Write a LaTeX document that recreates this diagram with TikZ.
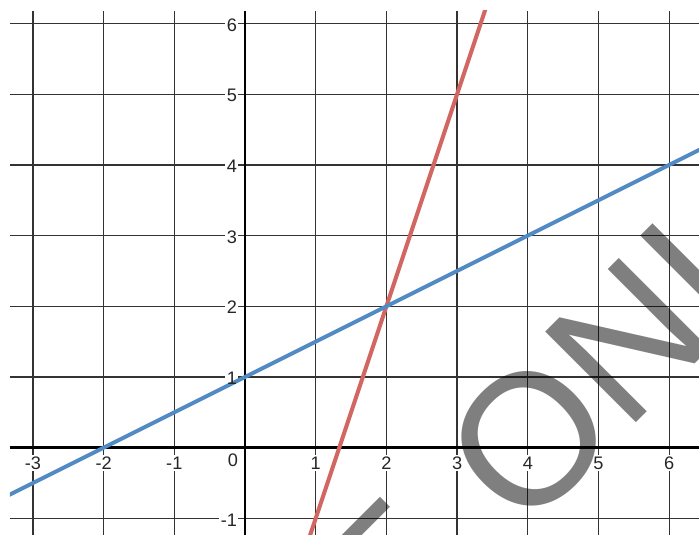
\documentclass[tikz,border=0pt]{standalone}
\usepackage{fontspec}
\setmainfont{Liberation Sans}
\definecolor{redl}{RGB}{210,102,99}
\definecolor{bluel}{RGB}{82,138,196}
\begin{document}
\begin{tikzpicture}[
  gridln/.style={draw=black!80, line width=0.5pt},
  axisln/.style={draw=black, line width=1pt},
  lbl/.style={font=\fontsize{7.3}{8}\selectfont, inner sep=0.6pt, text=black!85},
  lblbg/.style={lbl, fill=white, text=white},
  plotln/.style={line width=1.6pt, line cap=round},
  wm/.style={font=\fontsize{75}{80}\selectfont, text=black, text opacity=0.5, inner sep=0pt}
]
\useasboundingbox (-3.4653,-1.2348) rectangle (6.4215,6.3324);
\fill[white] (-3.4653,-1.2348) rectangle (6.4215,6.3324);
\coordinate (gbl) at (-3.324,-1.2348);
\coordinate (gtr) at (6.4215,6.177);
% grid
\foreach \x in {-3,...,6} \draw[gridln] (\x,-1.2348) -- (\x,6.177);
\foreach \y in {-1,...,6} \draw[gridln] (-3.324,\y) -- (6.4215,\y);
% label backgrounds
\foreach \x in {-3,-2,-1,1,2,3,4,5,6}
  \node[lblbg, anchor=base] (xb\x) at (\x,-0.305) {\x};
\foreach \y in {-1,1,2,3,4,5,6}
  \node[lblbg, anchor=base east] (yb\y) at (-0.085,\y-0.109) {\y};
\node[lblbg, anchor=base east] (ob) at (-0.07,-0.259) {0};
% axes
\draw[axisln] (0,-1.2348) -- (0,6.177);
\draw[axisln] (-3.324,0) -- (6.4215,0);
% plotted lines
\begin{scope}
  \clip (gbl) rectangle (gtr);
  \draw[plotln, draw=redl] (0.5,-2.5) -- (3.6,6.8);
  \draw[plotln, draw=bluel] (-4,-1) -- (7,4.5);
\end{scope}
% labels
\foreach \x in {-3,-2,-1,1,2,3,4,5,6}
  \node[lbl, anchor=base] (xl\x) at (\x,-0.305) {\x};
\foreach \y in {-1,1,2,3,4,5,6}
  \node[lbl, anchor=base east] (yl\y) at (-0.085,\y-0.109) {\y};
\node[lbl, anchor=base east] (ol) at (-0.07,-0.259) {0};
% watermark
\begin{scope}
  \clip (-3.4653,-1.2348) rectangle (6.4215,6.3324);
  \node[wm, rotate=45, anchor=base west] (wmO) at (3.93,-1.249) {ONL};
  \node[wm, rotate=45, anchor=base east] (wmE) at (3.32,-1.859) {E};
\end{scope}
\end{tikzpicture}
\end{document}
